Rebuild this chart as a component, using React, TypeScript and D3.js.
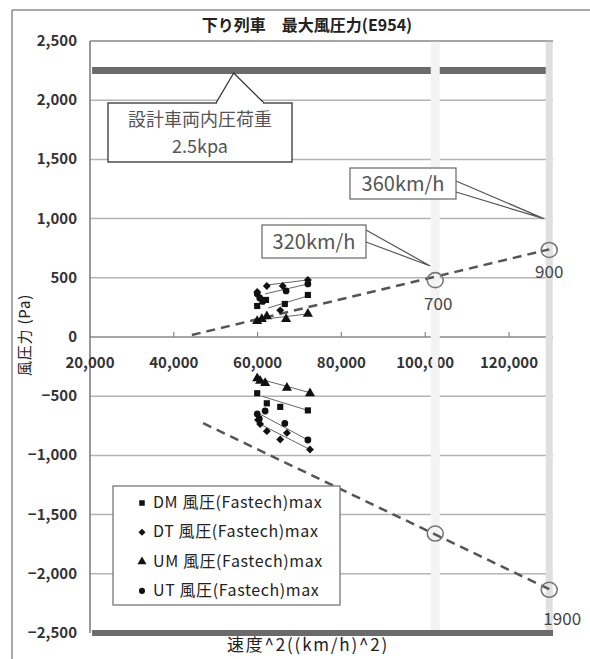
import React from 'react';
import * as d3 from 'd3';

const FONT = '"Noto Sans CJK JP", "Noto Sans", sans-serif';

const titleText = '下り列車　最大風圧力(E954)';
const xTitle = '速度^2((km/h)^2)';
const yTitle = '風圧力 (Pa)';

const xTickValues = [20000, 40000, 60000, 80000, 100000, 120000];
const yTickValues = [2500, 2000, 1500, 1000, 500, 0, -500, -1000, -1500, -2000, -2500];

const seriesNames = ['DM 風圧(Fastech)max', 'DT 風圧(Fastech)max', 'UM 風圧(Fastech)max', 'UT 風圧(Fastech)max'];

// measured maxima [speed^2, Pa]
const dmPos = [[59900, 262], [62000, 313], [66500, 279], [72000, 355]];
const dmNeg = [[59900, -475], [62200, -560], [65400, -590], [72000, -620]];
const dtPos = [[59900, 380], [62200, 431], [66000, 431], [65400, 225], [72000, 482]];
const dtNeg = [[60100, -700], [60600, -735], [62200, -795], [67000, -810], [65400, -865], [72500, -950]];
const umPos = [[59900, 135], [61000, 152], [62200, 175], [66800, 152], [72000, 195]];
const umNeg = [[59900, -350], [60600, -370], [61800, -390], [67000, -430], [72500, -475]];
const utPos = [[59900, 364], [60500, 330], [61200, 300], [66800, 389], [72000, 448]];
const utNeg = [[59900, -650], [61800, -625], [60400, -690], [66500, -730], [72000, -870]];

// thin trend lines per series [start, end]
const dmTrend = [[[62500, 245], [72000, 347]], [[61000, -500], [72000, -620]]];
const dtTrend = [[[62500, 440], [72000, 482]], [[60500, -735], [72500, -950]]];
const umTrend = [[[61800, 152], [72000, 195]], [[60000, -350], [72500, -470]]];
const utTrend = [[[61800, 364], [72000, 448]], [[60000, -640], [72000, -870]]];

// reference lines
const designLoad = 2250;
const designRange = [20500, 129600];
const speedLines = [102400, 129600]; // 320^2, 360^2
const floorValue = -2500;
const upperTrend = [[44300, 17], [129600, 740]];
const lowerTrend = [[47000, -728], [129600, -2130]];
const marked = [[102400, 480], [129600, 735], [102400, -1660], [129600, -2135]];
const markedLabels = ['700', '900', '', '1900'];

const designCallout = ['設計車両内圧荷重', '2.5kpa'];
const designTip = [54300, 2230];
const speedCallouts = ['360km/h', '320km/h'];
const speedTips = [[128300, 1000], [101200, 600]];

const diamond = (d3 as any).symbolDiamond2 || d3.symbolDiamond;
const shapes = [d3.symbolSquare, diamond, d3.symbolTriangle, d3.symbolCircle];
const shapeSizes = [38, 40, 44, 36];

const series = seriesNames.map((name, i) => ({
  name,
  shape: shapes[i],
  size: shapeSizes[i],
  points: [[dmPos, dmNeg], [dtPos, dtNeg], [umPos, umNeg], [utPos, utNeg]][i].flat(),
  trends: [dmTrend, dtTrend, umTrend, utTrend][i],
}));

export default function App() {
  const x = d3.scaleLinear().domain([20000, 130500]).range([90, 553]);
  const y = d3.scaleLinear().domain([-2500, 2500]).range([633, 41]);
  const fmt = d3.format(',');
  const line = d3.line<number[]>().x(d => x(d[0])).y(d => y(d[1]));
  const labelOffsets = [[3, 30], [0, 28], [0, 0], [13, 35]];

  const [sx0, sx1] = [x(20000), x(130500)];
  const [tx, ty] = [x(designTip[0]), y(designTip[1])];

  return (
    <svg width={590} height={659} fontFamily={FONT}
      style={{ position: 'absolute', left: 0, top: 0, background: '#fff' }}>
      {/* outer frame */}
      <path d="M12,660 V10 H600" fill="none" stroke="#555" strokeWidth={1} />

      <text x={307} y={31} textAnchor="middle" fontSize={16} fontWeight="bold" fill="#222">{titleText}</text>

      {/* gridlines */}
      {yTickValues.filter(v => v !== 0 && v !== -2500).map(v => (
        <line key={v} x1={sx0} x2={sx1} y1={y(v)} y2={y(v)} stroke="#b4b4b4" strokeWidth={1.5} />
      ))}
      <line x1={sx0} x2={sx1} y1={y(0)} y2={y(0)} stroke="#888" strokeWidth={1.5} />
      {xTickValues.slice(1).map(v => (
        <line key={v} x1={x(v)} x2={x(v)} y1={y(0) - 5} y2={y(0)} stroke="#888" strokeWidth={1.2} />
      ))}

      {/* design load bar */}
      <line x1={x(designRange[0])} x2={x(designRange[1])} y1={y(designLoad)} y2={y(designLoad)} stroke="#6b6b6b" strokeWidth={7} />

      {/* speed reference bars */}
      <line x1={x(speedLines[0])} x2={x(speedLines[0])} y1={y(2500)} y2={y(-2500)} stroke="#f3f3f3" strokeWidth={9} />
      <line x1={x(speedLines[1])} x2={x(speedLines[1])} y1={y(2500) - 1} y2={y(-2500) + 3} stroke="#e0e0e0" strokeWidth={7} />

      {/* plot border */}
      <line x1={sx0} x2={sx1} y1={y(2500)} y2={y(2500)} stroke="#9a9a9a" strokeWidth={1.5} />
      <line x1={sx0} x2={sx0} y1={y(2500)} y2={y(-2500)} stroke="#777" strokeWidth={1.5} />
      <line x1={x(20500)} x2={sx1} y1={y(floorValue)} y2={y(floorValue)} stroke="#6b6b6b" strokeWidth={6} />

      {/* axis labels */}
      {yTickValues.map(v => (
        <text key={v} x={77} y={y(v) + 5} textAnchor="end" fontSize={15} fontWeight="bold" fill="#333">{fmt(v)}</text>
      ))}
      {xTickValues.map(v => (
        <text key={v} x={x(v)} y={y(0) + 31} textAnchor="middle" fontSize={15} fontWeight="bold" fill="#333">{fmt(v)}</text>
      ))}
      <rect x={x(speedLines[0]) - 3} y={y(0) + 15} width={6} height={20} fill="#f3f3f3" />
      <text x={308} y={651} textAnchor="middle" fontSize={17} letterSpacing={1.8} fill="#222">{xTitle}</text>
      <text transform={`translate(30,${y(0) - 2}) rotate(-90)`} textAnchor="middle" fontSize={15} letterSpacing={0.8} fill="#222">{yTitle}</text>

      {/* trend lines */}
      {[upperTrend, lowerTrend].map((d, i) => (
        <path key={i} d={line(d) || ''} fill="none" stroke="#555" strokeWidth={2.5} strokeDasharray="9,6" />
      ))}
      {series.map(s => s.trends.map((d, j) => (
        <path key={s.name + j} d={line(d) || ''} fill="none" stroke="#666" strokeWidth={1} />
      )))}

      {/* markers */}
      {series.map(s => s.points.map((p, j) => (
        <path key={s.name + 'p' + j} transform={`translate(${x(p[0])},${y(p[1])})`}
          d={d3.symbol(s.shape, s.size)() || ''} fill="#111" />
      )))}

      {/* marked circles */}
      {marked.map((p, i) => (
        <g key={i}>
          <ellipse cx={x(p[0])} cy={y(p[1])} rx={8} ry={7.5} fill="none" stroke="#777" strokeWidth={1.6} />
          {markedLabels[i] && (
            <text x={x(p[0]) + labelOffsets[i][0]} y={y(p[1]) + labelOffsets[i][1]} textAnchor="middle" fontSize={17} fill="#444">{markedLabels[i]}</text>
          )}
        </g>
      ))}

      {/* design load callout */}
      <path d={`M216,103 L${tx},${ty} L264,103`} fill="#fff" stroke="#333" strokeWidth={1.3} />
      <rect x={108} y={103} width={184} height={59} fill="#fff" stroke="#333" strokeWidth={1.3} />
      <line x1={217} x2={263} y1={103} y2={103} stroke="#fff" strokeWidth={2} />
      {designCallout.map((t, i) => (
        <text key={t} x={200} y={126 + i * 27} textAnchor="middle" fontSize={18} fill="#555">{t}</text>
      ))}

      {/* speed callouts */}
      {speedCallouts.map((t, i) => {
        const bx = i === 0 ? 350 : 262;
        const by = i === 0 ? 168 : 225;
        const bw = i === 0 ? 106 : 104;
        const bh = i === 0 ? 31 : 33;
        const [px, py] = [x(speedTips[i][0]), y(speedTips[i][1])];
        const a = i === 0 ? [by + 13, by + 24] : [by + 5, by + 17];
        return (
          <g key={t}>
            <path d={`M${bx + bw},${a[0]} L${px},${py} L${bx + bw},${a[1]}`} fill="#fff" stroke="#555" strokeWidth={1.2} />
            <rect x={bx} y={by} width={bw} height={bh} fill="#fff" stroke="#666" strokeWidth={1.2} />
            <text x={bx + bw / 2} y={by + bh / 2 + 7} textAnchor="middle" fontSize={20} fill="#555">{t}</text>
          </g>
        );
      })}

      {/* legend */}
      <rect x={113} y={486} width={227} height={119} fill="#fff" stroke="#777" strokeWidth={1.3} />
      {series.map((s, i) => (
        <g key={s.name} transform={`translate(0,${503 + i * 29.3})`}>
          <path transform="translate(142,0)" d={d3.symbol(s.shape, s.size * 0.8)() || ''} fill="#111" />
          <text x={153} y={5} fontSize={16} letterSpacing={0.6} fill="#222">{s.name}</text>
        </g>
      ))}
    </svg>
  );
}
